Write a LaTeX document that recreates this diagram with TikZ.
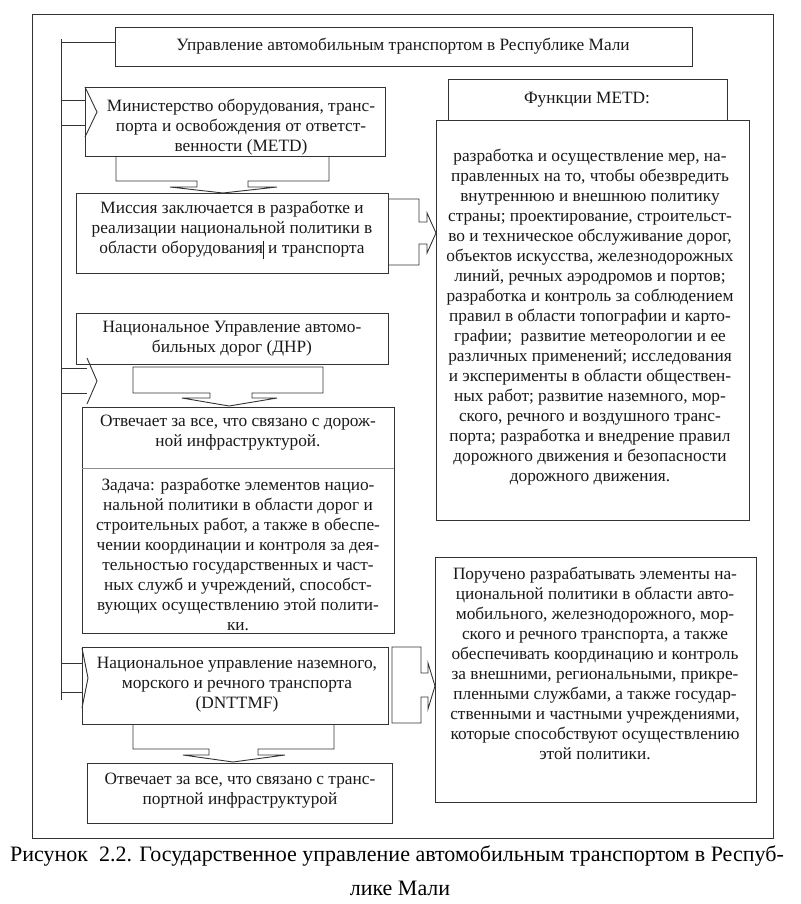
\documentclass[tikz,border=0pt]{standalone}
\usepackage{fontspec}
\setmainfont{Liberation Serif}
\begin{document}
\begin{tikzpicture}[x=1pt,y=-1pt,
  box/.style={draw=black!80, line width=0.9pt, inner sep=0pt, outer sep=0pt, anchor=north west},
  ln/.style={draw=black!80, line width=0.9pt, line join=miter},
  thinln/.style={draw=black!45, line width=0.7pt},
  txt/.style={align=center, inner sep=0pt, font=\fontsize{17.3}{20}\selectfont, text=black!90},
  captxt/.style={inner sep=0pt, font=\fontsize{22}{32}\selectfont, text=black}]
\useasboundingbox (0,0) rectangle (800,904);
% frame
\node[box, minimum width=741pt, minimum height=824pt] (frame) at (32,14) {};
% boxes
\node[box, minimum width=577pt, minimum height=39pt] (title) at (115,27) {};
\node[box, minimum width=279pt, minimum height=41pt] (functitle) at (448,79) {};
\node[box, minimum width=313pt, minimum height=400pt] (func) at (436,120) {};
\node[box, minimum width=300pt, minimum height=69pt] (metd) at (85,87) {};
\node[box, minimum width=312pt, minimum height=80pt] (mission) at (76,193) {};
\node[box, minimum width=312pt, minimum height=51pt] (dnr) at (76,313) {};
\node[box, minimum width=312pt, minimum height=226pt] (resp) at (82,407) {};
\node[box, minimum width=306pt, minimum height=77pt] (dnttmf) at (82,647) {};
\node[box, minimum width=305pt, minimum height=60pt] (last) at (87,763) {};
\node[box, minimum width=321pt, minimum height=245pt] (poruch) at (435,557) {};
\draw[thinln] (resp.west |- 0,468) -- (resp.east |- 0,468);

% left trunk
\coordinate (vtop) at (61,39);
\coordinate (vbot) at (61,700);
\draw[ln] (vtop) -- (vbot);
\draw[ln] (61,42) -- (115,42);

% arrow to METD
\draw[ln] (61,100) -- (85,100) (61,125) -- (85,125);
\draw[ln] (85,87) -- (97,112) -- (85,137);
% METD down to mission
\draw[ln] (116,156) -- (116,181) -- (197,181) -- (197,187) -- (170,187) -- (223,193) -- (277,187) -- (248,187) -- (248,181) -- (329,181) -- (329,156);
% mission to functions
\draw[ln] (388,199) -- (419,199) -- (419,222) -- (427,222) -- (427,213) -- (436,233) -- (427,253) -- (427,244) -- (419,244) -- (419,265) -- (388,265);
% arrow to DNR area
\draw[ln] (61,368) -- (87,368) (61,393) -- (87,393);
\draw[ln] (87,358) -- (97,381) -- (87,404);
% DNR down
\draw[ln] (133,367) -- (323,367) -- (323,393) -- (252,393) -- (252,398) -- (277,398) -- (229,406) -- (182,398) -- (210,398) -- (210,393) -- (133,393) -- cycle;
% arrow to DNTTMF
\draw[ln] (61,663) -- (82,663) (61,692) -- (82,692);
\draw[ln] (82,648) -- (88,678) -- (82,708);
% DNTTMF to poruch
\draw[ln] (392,647) -- (421,647) -- (421,673) -- (428,673) -- (428,663) -- (435,686) -- (428,709) -- (428,697) -- (421,697) -- (421,723) -- (392,723) -- cycle;
% DNTTMF down to last
\draw[ln] (133,724) -- (133,749) -- (209,749) -- (209,755) -- (183,755) -- (233,762) -- (285,755) -- (258,755) -- (258,749) -- (334,749) -- (334,724);

% texts
\node[txt] (title-t) at (403,46) {Управление автомобильным транспортом в Республике Мали};
\node[txt] (functitle-t) at (587,100) {Функции METD:};
\node[txt] (func-t) at (590,317) {разработка и осуществление мер, на-\\
правленных на то, чтобы обезвредить\\
внутреннюю и внешнюю политику\\
страны; проектирование, строительст-\\
во и техническое обслуживание дорог,\\
объектов искусства, железнодорожных\\
линий, речных аэродромов и портов;\\
разработка и контроль за соблюдением\\
правил в области топографии и карто-\\
графии;\ \ развитие метеорологии и ее\\
различных применений; исследования\\
и эксперименты в области обществен-\\
ных работ; развитие наземного, мор-\\
ского, речного и воздушного транс-\\
порта; разработка и внедрение правил\\
дорожного движения и безопасности\\
дорожного движения.};
\node[txt] (metd-t) at (241,127) {Министерство оборудования, транс-\\
порта и освобождения от ответст-\\
венности (METD)};
\node[txt] (mission-t) at (232,230) {Миссия заключается в разработке и\\
реализации национальной политики в\\
области оборудования\rule[-5pt]{0.7pt}{18pt}\ и транспорта};
\node[txt] (dnr-t) at (232,339) {Национальное Управление автомо-\\
бильных дорог (ДНР)};
\node[txt] (resp-t) at (238,433) {Отвечает за все, что связано с дорож-\\
ной инфраструктурой.};
\node[txt] (task-t) at (238,554) {Задача: разработке элементов нацио-\\
нальной политики в области дорог и\\
строительных работ, а также в обеспе-\\
чении координации и контроля за дея-\\
тельностью государственных и част-\\
ных служб и учреждений, способст-\\
вующих осуществлению этой полити-\\
ки.};
\node[txt] (dnttmf-t) at (237,685) {Национальное управление наземного,\\
морского и речного транспорта\\
(DNTTMF)};
\node[txt] (last-t) at (240,791) {Отвечает за все, что связано с транс-\\
портной инфраструктурой};
\node[txt] (poruch-t) at (595,663) {Поручено разрабатывать элементы на-\\
циональной политики в области авто-\\
мобильного, железнодорожного, мор-\\
ского и речного транспорта, а также\\
обеспечивать координацию и контроль\\
за внешними, региональными, прикре-\\
пленными службами, а также государ-\\
ственными и частными учреждениями,\\
которые способствуют осуществлению\\
этой политики.};
\node[captxt] (cap1) at (397,856) {Рисунок\ \ 2.2. Государственное управление автомобильным транспортом в Респуб-};
\node[captxt] (cap2) at (400,888) {лике Мали};
\end{tikzpicture}
\end{document}
